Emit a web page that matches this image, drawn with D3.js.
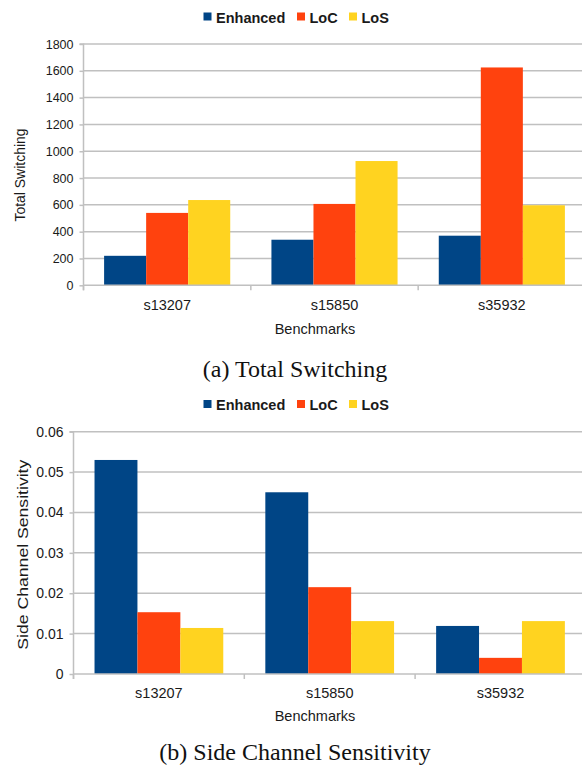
<!DOCTYPE html>
<html>
<head>
<meta charset="utf-8">
<script src="https://cdn.jsdelivr.net/npm/d3@7"></script>
<style>
  html, body { margin: 0; padding: 0; background: #fff; }
  svg { display: block; }
</style>
</head>
<body>
<svg id="chart" width="582" height="766"></svg>
<script>
// ---- Data ----
const categories = ["s13207", "s15850", "s35932"];
const seriesNames = ["Enhanced", "LoC", "LoS"];
const seriesColors = ["#004586", "#ff420e", "#ffd320"];

const switchingEnhanced = [220, 340, 370];
const switchingLoC = [540, 607, 1625];
const switchingLoS = [636, 927, 597];
const switchingTicks = [0, 200, 400, 600, 800, 1000, 1200, 1400, 1600, 1800];

const sensitivityEnhanced = [0.053, 0.045, 0.0119];
const sensitivityLoC = [0.0153, 0.0215, 0.004];
const sensitivityLoS = [0.0114, 0.0131, 0.0131];
const sensitivityTicks = [0, 0.01, 0.02, 0.03, 0.04, 0.05, 0.06];

const svg = d3.select("#chart");
const SANS = "'Liberation Sans', Arial, sans-serif";
const SERIF = "'Liberation Serif', 'Times New Roman', serif";
const GRID = "#c0c0c0";

function drawChart(opt) {
  const g = svg.append("g");
  const x0 = d3.scaleBand().domain(categories).range([opt.left, opt.right]).paddingInner(0).paddingOuter(0);
  const x1 = d3.scaleBand().domain(seriesNames).range([0, x0.bandwidth()]).paddingInner(0).paddingOuter(0.49);
  const y = d3.scaleLinear().domain([0, opt.ticks[opt.ticks.length - 1]]).range([opt.bottom, opt.top]);

  // gridlines (extend to image edge)
  g.selectAll("line.grid").data(opt.ticks.filter(t => t !== 0)).enter().append("line")
    .attr("x1", opt.left).attr("x2", 582)
    .attr("y1", d => y(d)).attr("y2", d => y(d))
    .attr("stroke", GRID).attr("stroke-width", 1.5);

  // bars
  const series = [opt.s1, opt.s2, opt.s3];
  series.forEach((vals, si) => {
    g.selectAll(null).data(vals).enter().append("rect")
      .attr("x", (d, i) => x0(categories[i]) + x1(seriesNames[si]))
      .attr("width", x1.bandwidth())
      .attr("y", d => y(d))
      .attr("height", d => y(0) - y(d))
      .attr("fill", seriesColors[si]);
  });

  // y axis
  const yAxis = d3.axisLeft(y).tickValues(opt.ticks).tickSize(4).tickPadding(6).tickFormat(opt.fmt);
  const ya = g.append("g").attr("transform", `translate(${opt.left},0)`).call(yAxis);
  ya.select(".domain").attr("stroke", GRID).attr("stroke-width", 1.5).attr("d", `M-4,${y(opt.ticks[opt.ticks.length-1])}H0V${opt.bottom + 5}`);
  ya.selectAll(".tick line").attr("stroke", GRID).attr("stroke-width", 1.5);
  ya.selectAll(".tick text").attr("font-family", SANS).attr("font-size", opt.yFont).attr("fill", "#1a1a1a");

  // x axis
  const xa = g.append("g");
  xa.append("line").attr("x1", opt.left).attr("x2", 582).attr("y1", opt.bottom).attr("y2", opt.bottom)
    .attr("stroke", GRID).attr("stroke-width", 1.5);
  xa.selectAll("line.xt").data(categories).enter().append("line")
    .attr("x1", d => x0(d)).attr("x2", d => x0(d))
    .attr("y1", opt.bottom).attr("y2", opt.bottom + 5)
    .attr("stroke", GRID).attr("stroke-width", 1.5);
  xa.selectAll("text.xl").data(categories).enter().append("text")
    .attr("x", d => x0(d) + x0.bandwidth() / 2)
    .attr("y", opt.xLabelY)
    .attr("text-anchor", "middle")
    .attr("font-family", SANS).attr("font-size", 14.5).attr("fill", "#1a1a1a")
    .text(d => d);

  // axis titles
  g.append("text").attr("x", 315).attr("y", opt.xTitleY).attr("text-anchor", "middle")
    .attr("font-family", SANS).attr("font-size", 14.5).attr("fill", "#1a1a1a").text("Benchmarks");
  g.append("text").attr("transform", `translate(${opt.yTitleX},${opt.yTitleCY}) rotate(-90)`)
    .attr("text-anchor", "middle")
    .attr("font-family", SANS).attr("font-size", 14).attr("fill", "#1a1a1a")
    .attr("textLength", opt.yTitleLen).attr("lengthAdjust", "spacingAndGlyphs")
    .text(opt.yTitle);

  // legend
  const legX = [203.5, 297, 349];
  const lg = g.append("g");
  seriesNames.forEach((n, i) => {
    lg.append("rect").attr("x", legX[i]).attr("y", opt.legendY - 4.5).attr("width", 8).attr("height", 8)
      .attr("fill", seriesColors[i]);
    lg.append("text").attr("x", legX[i] + 12.5).attr("y", opt.legendY + 5.5)
      .attr("font-family", SANS).attr("font-size", 14.5).attr("font-weight", "bold").attr("fill", "#1a1a1a")
      .text(n);
  });

  // caption
  g.append("text").attr("x", 295).attr("y", opt.captionY).attr("text-anchor", "middle")
    .attr("font-family", SERIF).attr("font-size", 24).attr("fill", "#111").text(opt.caption);
}

drawChart({
  left: 83.5, right: 585.5, top: 44, bottom: 285.3,
  ticks: switchingTicks, fmt: d3.format("d"), yFont: 12.5,
  s1: switchingEnhanced, s2: switchingLoC, s3: switchingLoS,
  xLabelY: 310, xTitleY: 334,
  yTitle: "Total Switching", yTitleX: 25, yTitleCY: 175, yTitleLen: 93,
  legendY: 17, caption: "(a) Total Switching", captionY: 377
});

drawChart({
  left: 73.5, right: 585.9, top: 431.7, bottom: 674,
  ticks: sensitivityTicks, fmt: d => d === 0 ? "0" : d3.format(".2f")(d), yFont: 14,
  s1: sensitivityEnhanced, s2: sensitivityLoC, s3: sensitivityLoS,
  xLabelY: 698, xTitleY: 721,
  yTitle: "Side Channel Sensitivity", yTitleX: 28, yTitleCY: 554.7, yTitleLen: 190,
  legendY: 404.5, caption: "(b) Side Channel Sensitivity", captionY: 760
});
</script>
</body>
</html>
